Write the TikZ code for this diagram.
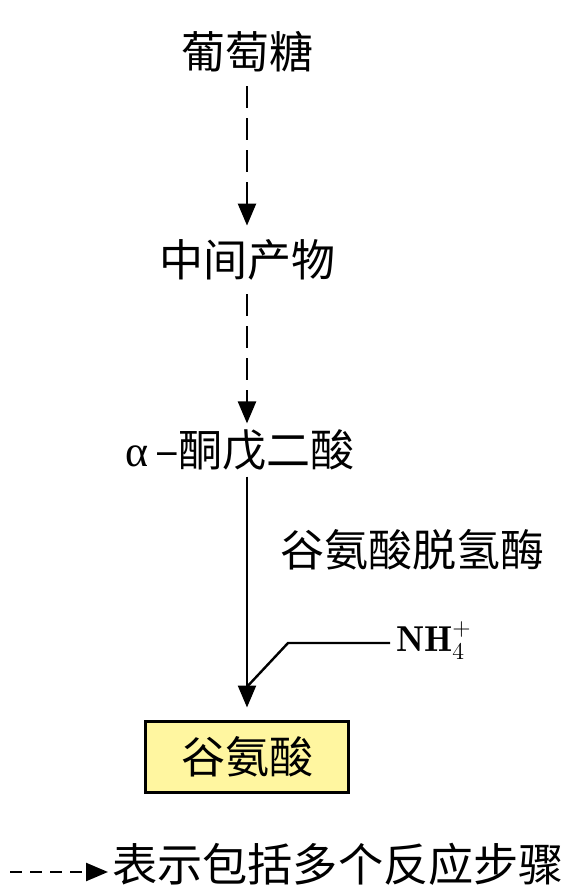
\documentclass[tikz,border=0pt]{standalone}
\usepackage{fontspec}
\newfontfamily\cjk{Noto Sans CJK SC}
\newfontfamily\greek{Liberation Serif}
\usepackage{tikz}
\usetikzlibrary{arrows.meta}
\usetikzlibrary{calc}
\definecolor{paleyellow}{RGB}{255,246,160}
\tikzstyle{chem} = [font=\cjk\fontsize{22}{26}\selectfont, inner sep=0pt, outer sep=7pt]
\tikzstyle{product} = [rectangle, minimum width=101.5pt, minimum height=35.5pt, text centered, draw=black, line width=1.1pt, fill=paleyellow, font=\cjk\fontsize{22}{26}\selectfont, outer sep=7pt]
\tikzstyle{arrow} = [line width=1.2pt, -{Triangle[length=11pt,width=9pt]}]
\tikzstyle{multistep} = [arrow, dash pattern=on 11pt off 5pt]

\begin{document}
\begin{tikzpicture}[x=0.5pt, y=-0.5pt, node distance=100pt]
	\useasboundingbox (0,0) rectangle (568,892);
	\node (glucose) [chem] at (247,52) {葡萄糖};
	\node (inter) [chem, below of=glucose, yshift=-4pt] {中间产物};
	\node (akg) [chem, below of=inter, yshift=5pt, xshift=-3.5pt, outer sep=3pt] {{\greek α}\,–酮戊二酸};
	\node (glu) [product, below of=akg, yshift=-53.5pt, xshift=3.5pt] {谷氨酸};
	\node (enzyme) [chem] at (412,550) {谷氨酸脱氢酶};
	\node (nh) [anchor=west, inner sep=0pt, outer sep=3pt, font=\fontsize{18}{20}\selectfont] at (390,641) {$\mathbf{NH}_4^+$};
	\coordinate (bend) at (288,643);
	\coordinate (join) at (244,690);
	%legend
	\coordinate (legstart) at (10,872);
	\node (legtext) [anchor=west, inner sep=0pt, outer sep=2pt, font=\cjk\fontsize{22.6}{26}\selectfont] at (108,864) {表示包括多个反应步骤};
	%lines
	\draw [multistep] (glucose) -- (inter);
	\draw [multistep] (inter) -- (inter |- akg.north);
	\draw [arrow] (akg.south -| glu.north) -- (glu);
	\draw [line width=1.2pt] (nh.west |- bend) -- (bend) -- (join);
	\draw [arrow, dash pattern=on 6pt off 4pt] (legstart) -- (legtext.west |- legstart);
\end{tikzpicture}
\end{document}
